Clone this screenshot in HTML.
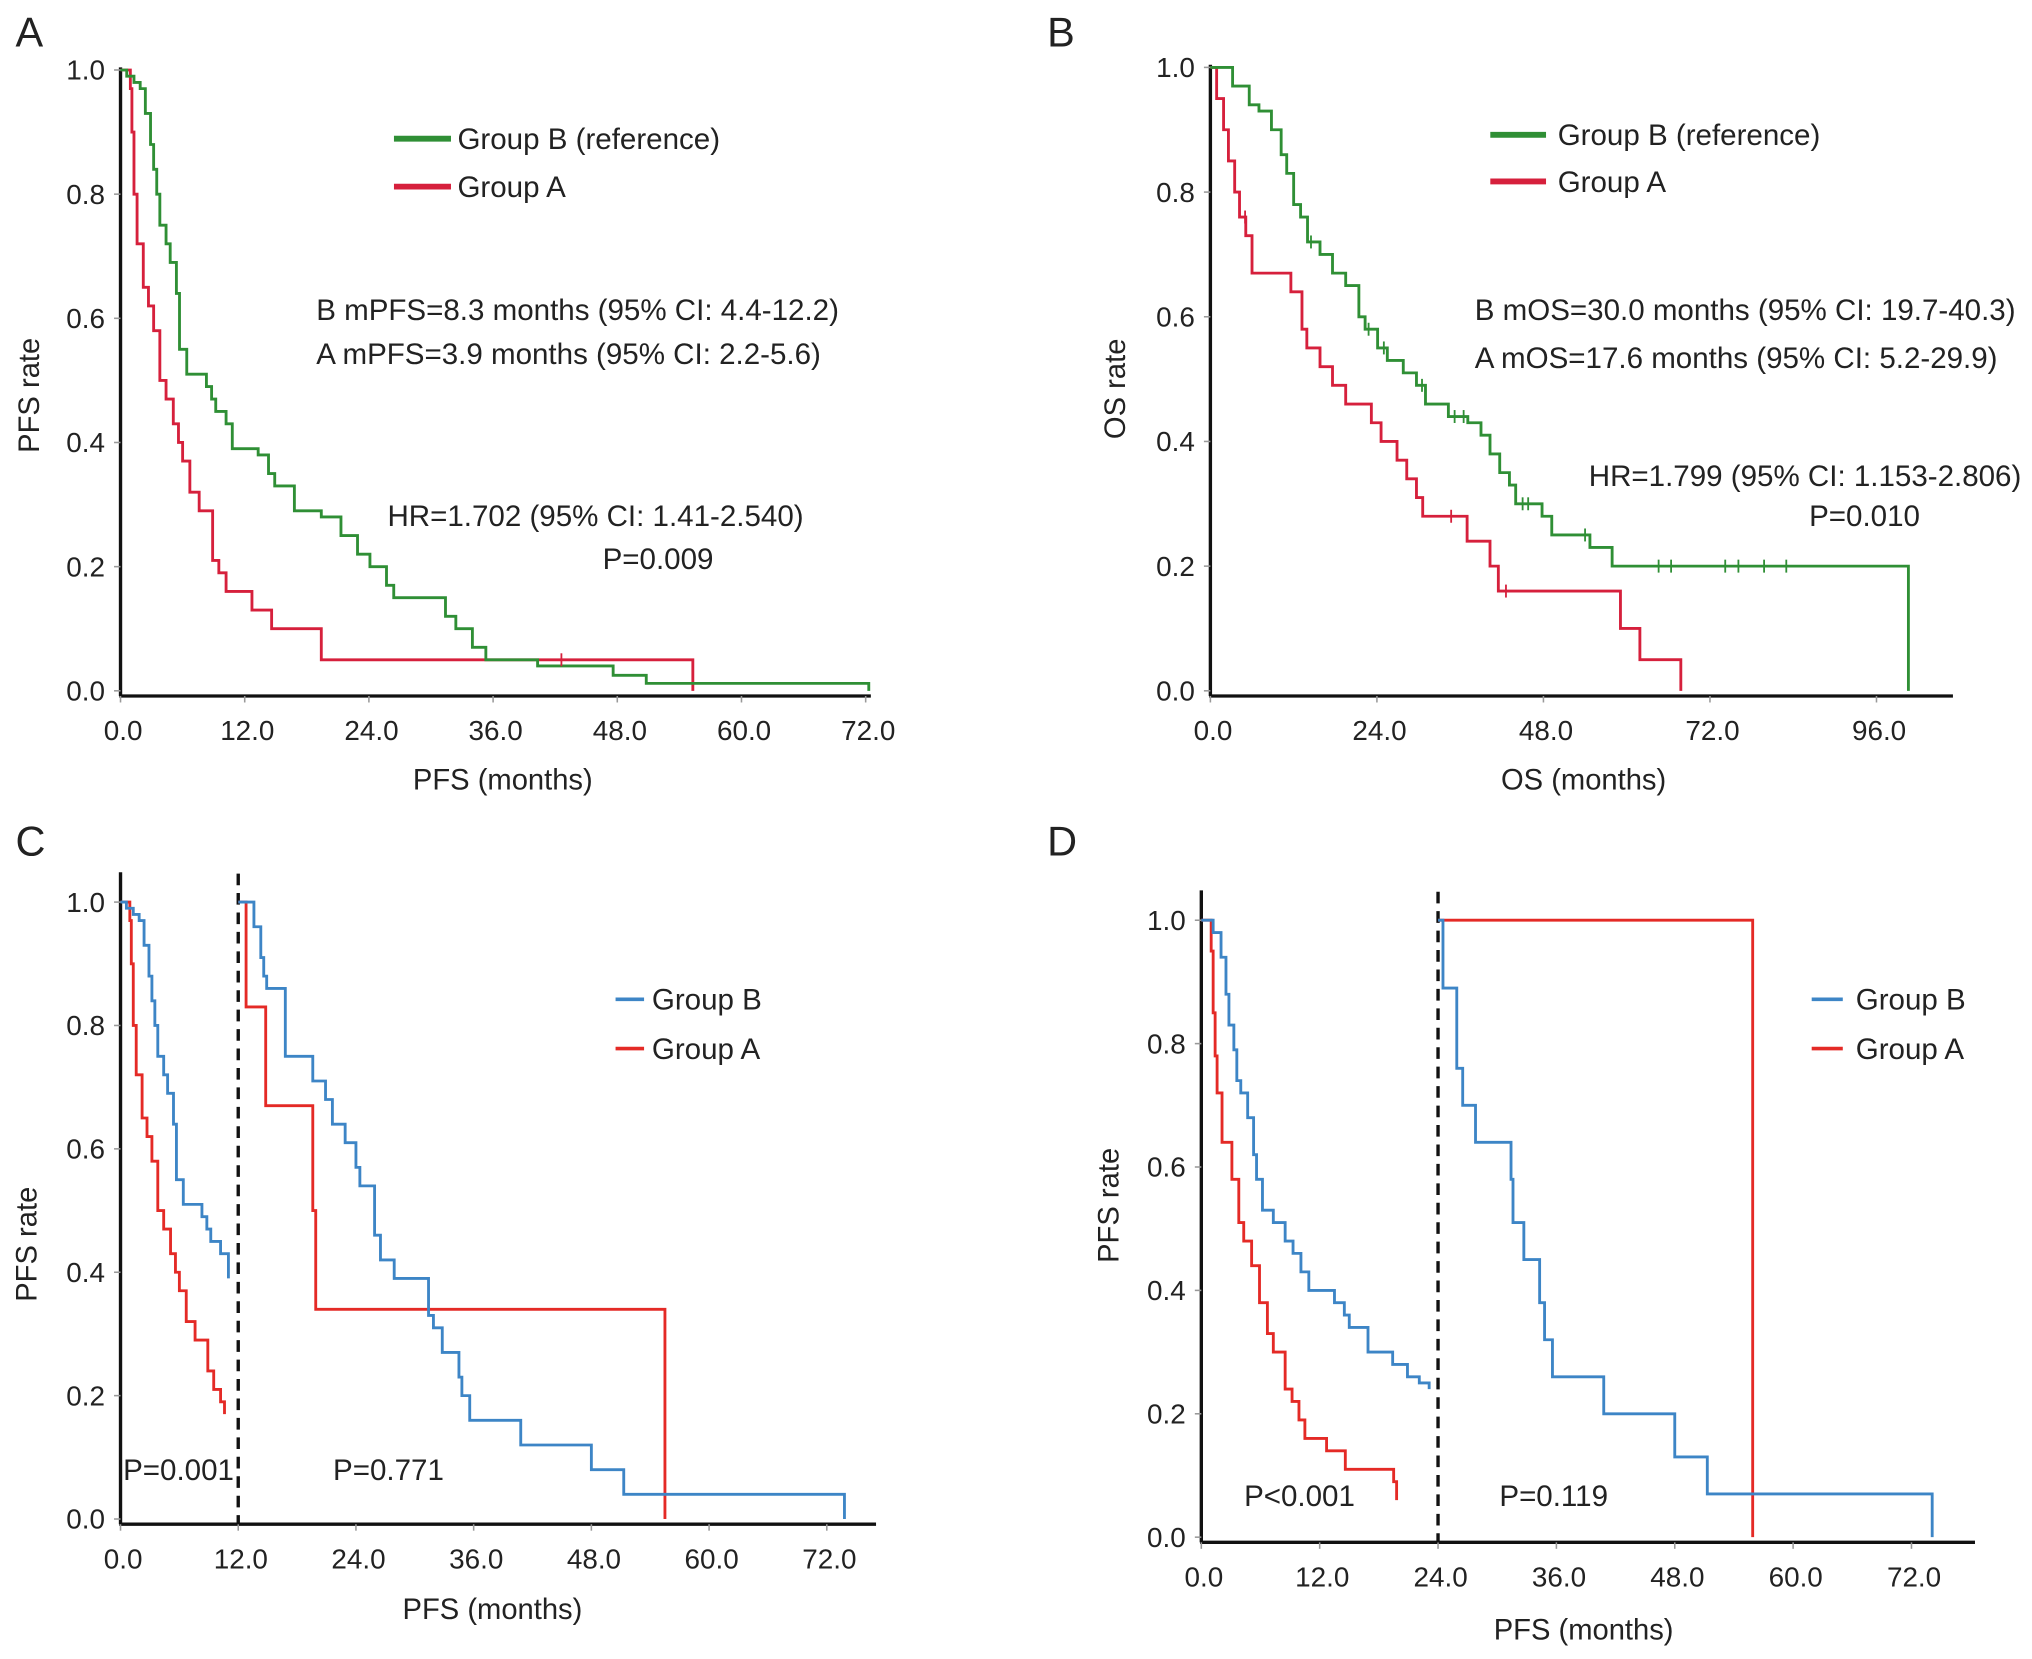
<!DOCTYPE html>
<html><head><meta charset="utf-8"><title>Kaplan-Meier curves</title>
<style>
html,body{margin:0;padding:0;background:#fff;}
svg{display:block;}
text{font-family:"Liberation Sans",Arial,sans-serif;fill:#222;}
</style></head>
<body>
<svg id="fig" width="2032" height="1659" viewBox="0 0 1568 1280" preserveAspectRatio="none" xmlns="http://www.w3.org/2000/svg">
  <g font-size="32">
    <text x="12" y="36">A</text>
    <text x="808" y="36">B</text>
    <text x="12" y="660">C</text>
    <text x="808" y="660">D</text>
  </g>
</svg>
<script>
// ---------- Panel A data ----------
const aXTicks=[0,12,24,36,48,60,72];
const aYTicks=[0,0.2,0.4,0.6,0.8,1.0];
const aGreenT=[0.6,1.3,1.9,2.4,2.9,3.2,3.5,3.8,4.4,4.8,5.4,5.7,6.4,8.3,8.8,9.2,10.2,10.8,13.3,14.3,14.9,16.8,19.4,21.3,22.9,24.1,25.7,26.4,31.4,32.4,34.0,35.3,40.3,47.6,50.8];
const aGreenS=[0.99,0.98,0.97,0.93,0.88,0.84,0.80,0.75,0.72,0.69,0.64,0.55,0.51,0.49,0.47,0.45,0.43,0.39,0.38,0.35,0.33,0.29,0.28,0.25,0.22,0.20,0.17,0.15,0.12,0.10,0.07,0.05,0.04,0.025,0.012];
const aGreenEnd=72.3;
const aRedT=[0.95,1.1,1.3,1.6,2.2,2.7,3.2,3.8,4.4,5.1,5.6,6.0,6.7,7.6,8.9,9.5,10.2,12.7,14.6,19.4,55.3];
const aRedS=[0.97,0.9,0.8,0.72,0.65,0.62,0.58,0.5,0.47,0.43,0.40,0.37,0.32,0.29,0.21,0.19,0.16,0.13,0.10,0.05,0.0];
const aRedEnd=55.3;
const aRedCensT=[42.6];
// ---------- Panel B data ----------
const bXTicks=[0,24,48,72,96];
const bYTicks=[0,0.2,0.4,0.6,0.8,1.0];
const bGreenT=[3.2,5.6,7.0,8.8,10.2,11.0,12.0,13.0,14.0,15.8,17.6,19.5,21.4,22.3,24.1,25.5,27.8,29.7,31.0,34.3,37.1,39.0,40.3,41.7,43.1,44.0,47.8,49.2,54.7,57.9,100.6];
const bGreenS=[0.97,0.94,0.93,0.90,0.86,0.83,0.78,0.76,0.72,0.70,0.67,0.65,0.60,0.58,0.55,0.53,0.51,0.49,0.46,0.44,0.43,0.41,0.38,0.35,0.33,0.30,0.28,0.25,0.23,0.20,0.0];
const bGreenEnd=100.6;
const bGreenCensT=[14.5,22.8,25.0,30.5,35.2,36.5,45.0,45.8,54.0,64.6,66.4,74.2,76.1,79.8,83.0];
const bRedT=[0.9,1.9,2.6,3.5,4.2,5.1,6.0,7.9,11.6,13.2,13.9,15.8,17.6,19.5,23.2,24.6,26.9,28.3,29.7,30.6,37.0,40.3,41.5,59.1,61.9,67.8];
const bRedS=[0.95,0.90,0.85,0.80,0.76,0.73,0.67,0.67,0.64,0.58,0.55,0.52,0.49,0.46,0.43,0.40,0.37,0.34,0.31,0.28,0.24,0.20,0.16,0.10,0.05,0.0];
const bRedEnd=67.8;
const bRedCensT=[5.0,34.7,42.6];
// ---------- Panel C data ----------
const cXTicks=[0,12,24,36,48,60,72];
const cYTicks=[0,0.2,0.4,0.6,0.8,1.0];
const cBlueLeftT=[0.6,1.3,1.9,2.4,2.9,3.2,3.5,3.8,4.4,4.8,5.4,5.7,6.4,8.3,8.8,9.2,10.2];
const cBlueLeftS=[0.99,0.98,0.97,0.93,0.88,0.84,0.80,0.75,0.72,0.69,0.64,0.55,0.51,0.49,0.47,0.45,0.43];
const cBlueLeftEnd=11.0; const cBlueLeftEndS=0.39;
const cRedLeftT=[0.95,1.1,1.3,1.6,2.2,2.7,3.2,3.8,4.4,5.1,5.6,6.0,6.7,7.6,8.3,8.9,9.5,10.2];
const cRedLeftS=[0.97,0.9,0.8,0.72,0.65,0.62,0.58,0.5,0.47,0.43,0.40,0.37,0.32,0.29,0.29,0.24,0.21,0.19];
const cRedLeftEnd=10.6; const cRedLeftEndS=0.17;
const cBlueRightT=[13.6,14.3,14.6,14.9,16.8,19.6,20.9,21.6,22.9,24.0,24.4,25.9,26.5,27.9,31.4,31.9,32.8,34.5,34.8,35.6,40.8,48.0,51.3,73.8];
const cBlueRightS=[0.96,0.91,0.88,0.86,0.75,0.71,0.68,0.64,0.61,0.57,0.54,0.46,0.42,0.39,0.33,0.31,0.27,0.23,0.20,0.16,0.12,0.08,0.04,0.0];
const cRedRightT=[12.8,14.8,19.6,19.9,55.5];
const cRedRightS=[0.83,0.67,0.50,0.34,0.0];
// ---------- Panel D data ----------
const dXTicks=[0,12,24,36,48,60,72];
const dYTicks=[0,0.2,0.4,0.6,0.8,1.0];
const dBlueLeftT=[1.2,2.0,2.5,2.8,3.3,3.6,4.0,4.7,5.3,5.6,6.2,7.3,8.5,9.3,10.1,10.9,13.5,14.5,15.0,16.9,19.4,20.9,22.1];
const dBlueLeftS=[0.98,0.94,0.88,0.83,0.79,0.74,0.72,0.68,0.62,0.58,0.53,0.51,0.48,0.46,0.43,0.40,0.38,0.36,0.34,0.30,0.28,0.26,0.25];
const dBlueLeftEnd=23.1; const dBlueLeftEndS=0.24;
const dRedLeftT=[1.0,1.2,1.4,1.6,2.1,3.1,3.8,4.3,5.1,5.9,6.7,7.3,8.5,9.2,9.9,10.5,12.7,14.6,19.5];
const dRedLeftS=[0.95,0.85,0.78,0.72,0.64,0.58,0.51,0.48,0.44,0.38,0.33,0.30,0.24,0.22,0.19,0.16,0.14,0.11,0.09];
const dRedLeftEnd=19.8; const dRedLeftEndS=0.06;
const dBlueRightT=[24.5,25.9,26.5,27.8,31.4,31.6,32.7,34.3,34.8,35.6,40.8,48.0,51.3,74.1];
const dBlueRightS=[0.89,0.76,0.70,0.64,0.58,0.51,0.45,0.38,0.32,0.26,0.20,0.13,0.07,0.0];
const dRedRightT=[55.9];
const dRedRightS=[0.0];

const NS="http://www.w3.org/2000/svg";
const svg=document.getElementById('fig');
const TICKFS=21.5, TITLEFS=22.5, NOTEFS=22.8, LEGFS=22.8;
function mk(tag,attrs,parent){const e=document.createElementNS(NS,tag);for(const k in attrs)e.setAttribute(k,attrs[k]);(parent||svg).appendChild(e);return e;}

function axes(p,g){
  const sx=v=>p.x0+(v-p.xmin)*(p.x1-p.x0)/(p.xmax-p.xmin);
  const sy=v=>p.y0+(v)*(p.y1-p.y0);
  const ya=mk('line',{x1:p.x0,y1:p.axTop,x2:p.x0,y2:p.y0+4,stroke:'#111','stroke-width':2.6},g);
  
  
  const xa=mk('line',{x1:p.x0-1,y1:p.y0+4,x2:p.axRight,y2:p.y0+4,stroke:'#111','stroke-width':2.6},g);
  
  
  p.yt.forEach(v=>{
    mk('line',{x1:p.x0-5,y1:sy(v),x2:p.x0,y2:sy(v),stroke:'#999','stroke-width':1.2},g);
    const t=mk('text',{x:p.x0-12,y:sy(v)+7.5,'text-anchor':'end','font-size':TICKFS},g);
    t.textContent=v.toFixed(1);
    
    
  });
  p.xt.forEach(v=>{
    mk('line',{x1:sx(v),y1:p.y0+4,x2:sx(v),y2:p.y0+9,stroke:'#999','stroke-width':1.2},g);
    const t=mk('text',{x:sx(v)+2,y:p.y0+38,'text-anchor':'middle','font-size':TICKFS},g);
    t.textContent=v.toFixed(1);
    
    
  });
  const xt=mk('text',{x:p.xtX,y:p.xtY,'text-anchor':'middle','font-size':TITLEFS},g);
  xt.textContent=p.xTitle;
  
  
  const yt=mk('text',{x:0,y:0,'text-anchor':'middle','font-size':TITLEFS,transform:`translate(${p.ytX},${p.ytY}) rotate(-90)`},g);
  yt.textContent=p.yTitle;
  
  
  return {sx,sy};
}
function step(g,s,T,S,t0,s0,endT,endS,color,name){
  let d=`M${s.sx(t0)},${s.sy(s0)}`;
  for(let i=0;i<T.length;i++){d+=` H${s.sx(T[i])} V${s.sy(S[i])}`;}
  if(endT!=null){d+=` H${s.sx(endT)}`; if(endS!=null) d+=` V${s.sy(endS)}`;}
  const p=mk('path',{d:d,fill:'none',stroke:color,'stroke-width':2.2,'stroke-linejoin':'miter'},g);
  
  
  return p;
}
function survAt(T,S,t){let v=1;for(let i=0;i<T.length;i++){if(T[i]<=t)v=S[i];}return v;}
function cens(g,s,T,S,CT,color){
  CT.forEach(t=>{const v=survAt(T,S,t);
    const c=mk('line',{x1:s.sx(t),y1:s.sy(v)-5,x2:s.sx(t),y2:s.sy(v)+5,stroke:color,'stroke-width':1.4},g);
    
    });
}
function legend(g,x1,x2,tx,y,label,color,w,name){
  const l=mk('line',{x1:x1,y1:y,x2:x2,y2:y,stroke:color,'stroke-width':w},g);
  
  
  const t=mk('text',{x:tx,y:y+8,'font-size':LEGFS},g);
  t.textContent=label;
  
  
}
function note(g,x,y,txt,name){const t=mk('text',{x:x,y:y+8,'font-size':NOTEFS},g);t.textContent=txt;
  
  }
function dash(g,s,t,top,bottom){const l=mk('line',{x1:s.sx(t),y1:top,x2:s.sx(t),y2:bottom,stroke:'#111','stroke-width':2.6,'stroke-dasharray':'9,6'},g);
  
  }

const GREEN='#2f8f35', CRIM='#d6203c', BLUE='#3d85c6', RED='#e42a26';

// Panel A
const gA=mk('g',{});


const sA=axes({x0:93,x1:668,xmin:0,xmax:72,y0:533,y1:54,axTop:52,axRight:672,xt:aXTicks,yt:aYTicks,xTitle:'PFS (months)',xtX:388,xtY:609,yTitle:'PFS rate',ytX:30,ytY:305},gA);
step(gA,sA,aRedT,aRedS,0,1,aRedEnd,null,CRIM,'group-a-curve');
step(gA,sA,aGreenT,aGreenS,0,1,aGreenEnd,0.0,GREEN,'group-b-curve');
cens(gA,sA,aRedT,aRedS,aRedCensT,CRIM);
legend(gA,304,348,353,107,'Group B (reference)',GREEN,4.5,'legend-group-b');
legend(gA,304,348,353,144,'Group A',CRIM,4.5,'legend-group-a');
note(gA,244,239,'B mPFS=8.3 months (95% CI: 4.4-12.2)','median-b-note');
note(gA,244,273,'A mPFS=3.9 months (95% CI: 2.2-5.6)','median-a-note');
note(gA,299,398,'HR=1.702 (95% CI: 1.41-2.540)','hazard-ratio-note');
note(gA,465,431,'P=0.009','p-value-note');

// Panel B
const gB=mk('g',{});


const sB=axes({x0:934,x1:1448,xmin:0,xmax:96,y0:533,y1:52,axTop:50,axRight:1507,xt:bXTicks,yt:bYTicks,xTitle:'OS (months)',xtX:1222,xtY:609,yTitle:'OS rate',ytX:868,ytY:300},gB);
step(gB,sB,bRedT,bRedS,0,1,bRedEnd,null,CRIM,'group-a-curve');
step(gB,sB,bGreenT,bGreenS,0,1,bGreenEnd,null,GREEN,'group-b-curve');
cens(gB,sB,bGreenT,bGreenS,bGreenCensT,GREEN);
cens(gB,sB,bRedT,bRedS,bRedCensT,CRIM);
legend(gB,1150,1193,1202,104,'Group B (reference)',GREEN,4.5,'legend-group-b');
legend(gB,1150,1193,1202,140,'Group A',CRIM,4.5,'legend-group-a');
note(gB,1138,239,'B mOS=30.0 months (95% CI: 19.7-40.3)','median-b-note');
note(gB,1138,276,'A mOS=17.6 months (95% CI: 5.2-29.9)','median-a-note');
note(gB,1226,367,'HR=1.799 (95% CI: 1.153-2.806)','hazard-ratio-note');
note(gB,1396,398,'P=0.010','p-value-note');

// Panel C
const gC=mk('g',{});


const sC=axes({x0:93,x1:638,xmin:0,xmax:72,y0:1172,y1:696,axTop:673,axRight:676,xt:cXTicks,yt:cYTicks,xTitle:'PFS (months)',xtX:380,xtY:1249,yTitle:'PFS rate',ytX:28,ytY:960},gC);
dash(gC,sC,12,674,1176);
step(gC,sC,cRedLeftT,cRedLeftS,0,1,cRedLeftEnd,cRedLeftEndS,RED,'group-a-curve-before');
step(gC,sC,cBlueLeftT,cBlueLeftS,0,1,cBlueLeftEnd,cBlueLeftEndS,BLUE,'group-b-curve-before');
step(gC,sC,cRedRightT,cRedRightS,12,1,null,null,RED,'group-a-curve-after');
step(gC,sC,cBlueRightT,cBlueRightS,12,1,null,null,BLUE,'group-b-curve-after');
legend(gC,475,497,503,771,'Group B',BLUE,2.8,'legend-group-b');
legend(gC,475,497,503,809,'Group A',RED,2.8,'legend-group-a');
note(gC,95,1134,'P=0.001','p-value-before');
note(gC,257,1134,'P=0.771','p-value-after');

// Panel D
const gD=mk('g',{});


const sD=axes({x0:927,x1:1475,xmin:0,xmax:72,y0:1186,y1:710,axTop:687,axRight:1524,xt:dXTicks,yt:dYTicks,xTitle:'PFS (months)',xtX:1222,xtY:1265,yTitle:'PFS rate',ytX:863,ytY:930},gD);
dash(gD,sD,24,688,1190);
step(gD,sD,dRedLeftT,dRedLeftS,0,1,dRedLeftEnd,dRedLeftEndS,RED,'group-a-curve-before');
step(gD,sD,dBlueLeftT,dBlueLeftS,0,1,dBlueLeftEnd,dBlueLeftEndS,BLUE,'group-b-curve-before');
step(gD,sD,dRedRightT,dRedRightS,24,1,null,null,RED,'group-a-curve-after');
step(gD,sD,dBlueRightT,dBlueRightS,24,1,null,null,BLUE,'group-b-curve-after');
legend(gD,1398,1422,1432,771,'Group B',BLUE,2.8,'legend-group-b');
legend(gD,1398,1422,1432,809,'Group A',RED,2.8,'legend-group-a');
note(gD,960,1154,'P<0.001','p-value-before');
note(gD,1157,1154,'P=0.119','p-value-after');
</script>
</body></html>
